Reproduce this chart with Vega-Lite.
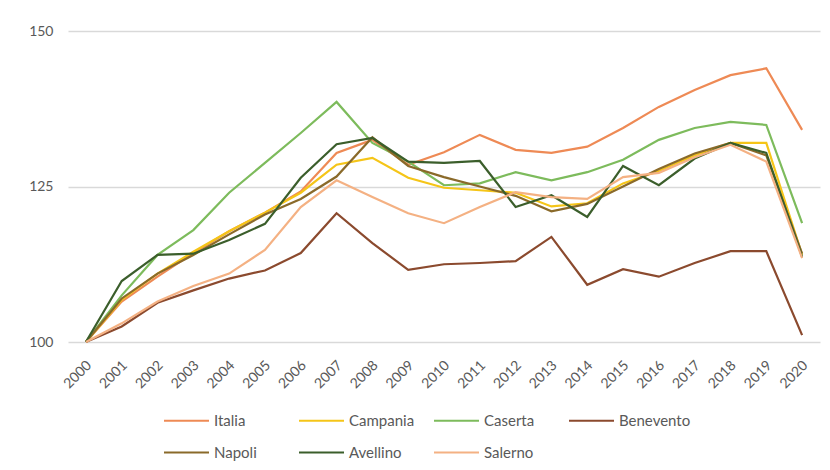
{
  "$schema": "https://vega.github.io/schema/vega-lite/v6.json",
  "width": 752,
  "height": 311,
  "autosize": {"type": "none"},
  "padding": {"left": 68, "top": 31, "right": 10, "bottom": 128},
  "background": "white",
  "config": {
    "view": {"stroke": null},
    "font": "Lato",
    "axis": {"labelFont": "Lato", "labelColor": "#595959", "labelFontSize": 14, "gridColor": "#d9d9d9", "gridWidth": 1.5, "domain": false, "ticks": false},
    "legend": {"labelFont": "Lato", "labelColor": "#595959", "labelFontSize": 15}
  },
  "data": {
    "values": [
      {"anno": "2000", "area": "Italia", "indice": 100}, {"anno": "2000", "area": "Campania", "indice": 100}, {"anno": "2000", "area": "Caserta", "indice": 100}, {"anno": "2000", "area": "Benevento", "indice": 100}, {"anno": "2000", "area": "Napoli", "indice": 100}, {"anno": "2000", "area": "Avellino", "indice": 100}, {"anno": "2000", "area": "Salerno", "indice": 100},
      {"anno": "2001", "area": "Italia", "indice": 106.5}, {"anno": "2001", "area": "Campania", "indice": 106.8}, {"anno": "2001", "area": "Caserta", "indice": 107.5}, {"anno": "2001", "area": "Benevento", "indice": 102.5}, {"anno": "2001", "area": "Napoli", "indice": 107}, {"anno": "2001", "area": "Avellino", "indice": 109.8}, {"anno": "2001", "area": "Salerno", "indice": 103},
      {"anno": "2002", "area": "Italia", "indice": 110.5}, {"anno": "2002", "area": "Campania", "indice": 111}, {"anno": "2002", "area": "Caserta", "indice": 114}, {"anno": "2002", "area": "Benevento", "indice": 106.3}, {"anno": "2002", "area": "Napoli", "indice": 111}, {"anno": "2002", "area": "Avellino", "indice": 114}, {"anno": "2002", "area": "Salerno", "indice": 106.5},
      {"anno": "2003", "area": "Italia", "indice": 114.3}, {"anno": "2003", "area": "Campania", "indice": 114.5}, {"anno": "2003", "area": "Caserta", "indice": 118}, {"anno": "2003", "area": "Benevento", "indice": 108.3}, {"anno": "2003", "area": "Napoli", "indice": 114}, {"anno": "2003", "area": "Avellino", "indice": 114.2}, {"anno": "2003", "area": "Salerno", "indice": 109},
      {"anno": "2004", "area": "Italia", "indice": 117.8}, {"anno": "2004", "area": "Campania", "indice": 117.8}, {"anno": "2004", "area": "Caserta", "indice": 124}, {"anno": "2004", "area": "Benevento", "indice": 110.2}, {"anno": "2004", "area": "Napoli", "indice": 117.3}, {"anno": "2004", "area": "Avellino", "indice": 116.4}, {"anno": "2004", "area": "Salerno", "indice": 111},
      {"anno": "2005", "area": "Italia", "indice": 120.8}, {"anno": "2005", "area": "Campania", "indice": 120.8}, {"anno": "2005", "area": "Caserta", "indice": 128.8}, {"anno": "2005", "area": "Benevento", "indice": 111.5}, {"anno": "2005", "area": "Napoli", "indice": 120.5}, {"anno": "2005", "area": "Avellino", "indice": 119}, {"anno": "2005", "area": "Salerno", "indice": 114.8},
      {"anno": "2006", "area": "Italia", "indice": 124.2}, {"anno": "2006", "area": "Campania", "indice": 124}, {"anno": "2006", "area": "Caserta", "indice": 133.6}, {"anno": "2006", "area": "Benevento", "indice": 114.3}, {"anno": "2006", "area": "Napoli", "indice": 123}, {"anno": "2006", "area": "Avellino", "indice": 126.4}, {"anno": "2006", "area": "Salerno", "indice": 121.7},
      {"anno": "2007", "area": "Italia", "indice": 130.4}, {"anno": "2007", "area": "Campania", "indice": 128.5}, {"anno": "2007", "area": "Caserta", "indice": 138.6}, {"anno": "2007", "area": "Benevento", "indice": 120.7}, {"anno": "2007", "area": "Napoli", "indice": 126.6}, {"anno": "2007", "area": "Avellino", "indice": 131.8}, {"anno": "2007", "area": "Salerno", "indice": 126},
      {"anno": "2008", "area": "Italia", "indice": 132.5}, {"anno": "2008", "area": "Campania", "indice": 129.6}, {"anno": "2008", "area": "Caserta", "indice": 132}, {"anno": "2008", "area": "Benevento", "indice": 115.9}, {"anno": "2008", "area": "Napoli", "indice": 132.9}, {"anno": "2008", "area": "Avellino", "indice": 132.8}, {"anno": "2008", "area": "Salerno", "indice": 123.3},
      {"anno": "2009", "area": "Italia", "indice": 128.5}, {"anno": "2009", "area": "Campania", "indice": 126.4}, {"anno": "2009", "area": "Caserta", "indice": 129}, {"anno": "2009", "area": "Benevento", "indice": 111.6}, {"anno": "2009", "area": "Napoli", "indice": 128.3}, {"anno": "2009", "area": "Avellino", "indice": 129}, {"anno": "2009", "area": "Salerno", "indice": 120.7},
      {"anno": "2010", "area": "Italia", "indice": 130.5}, {"anno": "2010", "area": "Campania", "indice": 124.8}, {"anno": "2010", "area": "Caserta", "indice": 125.2}, {"anno": "2010", "area": "Benevento", "indice": 112.5}, {"anno": "2010", "area": "Napoli", "indice": 126.5}, {"anno": "2010", "area": "Avellino", "indice": 128.8}, {"anno": "2010", "area": "Salerno", "indice": 119.1},
      {"anno": "2011", "area": "Italia", "indice": 133.3}, {"anno": "2011", "area": "Campania", "indice": 124.4}, {"anno": "2011", "area": "Caserta", "indice": 125.5}, {"anno": "2011", "area": "Benevento", "indice": 112.7}, {"anno": "2011", "area": "Napoli", "indice": 125}, {"anno": "2011", "area": "Avellino", "indice": 129.1}, {"anno": "2011", "area": "Salerno", "indice": 121.7},
      {"anno": "2012", "area": "Italia", "indice": 130.9}, {"anno": "2012", "area": "Campania", "indice": 124}, {"anno": "2012", "area": "Caserta", "indice": 127.3}, {"anno": "2012", "area": "Benevento", "indice": 113}, {"anno": "2012", "area": "Napoli", "indice": 123.5}, {"anno": "2012", "area": "Avellino", "indice": 121.7}, {"anno": "2012", "area": "Salerno", "indice": 124.1},
      {"anno": "2013", "area": "Italia", "indice": 130.4}, {"anno": "2013", "area": "Campania", "indice": 121.8}, {"anno": "2013", "area": "Caserta", "indice": 126}, {"anno": "2013", "area": "Benevento", "indice": 116.9}, {"anno": "2013", "area": "Napoli", "indice": 121}, {"anno": "2013", "area": "Avellino", "indice": 123.6}, {"anno": "2013", "area": "Salerno", "indice": 123.3},
      {"anno": "2014", "area": "Italia", "indice": 131.4}, {"anno": "2014", "area": "Campania", "indice": 122.3}, {"anno": "2014", "area": "Caserta", "indice": 127.3}, {"anno": "2014", "area": "Benevento", "indice": 109.2}, {"anno": "2014", "area": "Napoli", "indice": 122.2}, {"anno": "2014", "area": "Avellino", "indice": 120.1}, {"anno": "2014", "area": "Salerno", "indice": 123},
      {"anno": "2015", "area": "Italia", "indice": 134.4}, {"anno": "2015", "area": "Campania", "indice": 125.5}, {"anno": "2015", "area": "Caserta", "indice": 129.3}, {"anno": "2015", "area": "Benevento", "indice": 111.7}, {"anno": "2015", "area": "Napoli", "indice": 125}, {"anno": "2015", "area": "Avellino", "indice": 128.3}, {"anno": "2015", "area": "Salerno", "indice": 126.5},
      {"anno": "2016", "area": "Italia", "indice": 137.8}, {"anno": "2016", "area": "Campania", "indice": 127.5}, {"anno": "2016", "area": "Caserta", "indice": 132.5}, {"anno": "2016", "area": "Benevento", "indice": 110.5}, {"anno": "2016", "area": "Napoli", "indice": 127.8}, {"anno": "2016", "area": "Avellino", "indice": 125.2}, {"anno": "2016", "area": "Salerno", "indice": 127.2},
      {"anno": "2017", "area": "Italia", "indice": 140.5}, {"anno": "2017", "area": "Campania", "indice": 130}, {"anno": "2017", "area": "Caserta", "indice": 134.4}, {"anno": "2017", "area": "Benevento", "indice": 112.7}, {"anno": "2017", "area": "Napoli", "indice": 130.3}, {"anno": "2017", "area": "Avellino", "indice": 129.5}, {"anno": "2017", "area": "Salerno", "indice": 129.7},
      {"anno": "2018", "area": "Italia", "indice": 142.9}, {"anno": "2018", "area": "Campania", "indice": 132}, {"anno": "2018", "area": "Caserta", "indice": 135.4}, {"anno": "2018", "area": "Benevento", "indice": 114.6}, {"anno": "2018", "area": "Napoli", "indice": 132}, {"anno": "2018", "area": "Avellino", "indice": 132}, {"anno": "2018", "area": "Salerno", "indice": 131.7},
      {"anno": "2019", "area": "Italia", "indice": 144}, {"anno": "2019", "area": "Campania", "indice": 132}, {"anno": "2019", "area": "Caserta", "indice": 134.9}, {"anno": "2019", "area": "Benevento", "indice": 114.6}, {"anno": "2019", "area": "Napoli", "indice": 130}, {"anno": "2019", "area": "Avellino", "indice": 130.4}, {"anno": "2019", "area": "Salerno", "indice": 129},
      {"anno": "2020", "area": "Italia", "indice": 134.1}, {"anno": "2020", "area": "Campania", "indice": 114}, {"anno": "2020", "area": "Caserta", "indice": 119.1}, {"anno": "2020", "area": "Benevento", "indice": 101.1}, {"anno": "2020", "area": "Napoli", "indice": 114.2}, {"anno": "2020", "area": "Avellino", "indice": 113.7}, {"anno": "2020", "area": "Salerno", "indice": 113.5}
    ]
  },
  "mark": {"type": "line", "strokeWidth": 2.2},
  "encoding": {
    "x": {
      "field": "anno",
      "type": "ordinal",
      "scale": {"type": "point", "padding": 0.5},
      "axis": {"title": null, "grid": false, "labelAngle": -45, "labelAlign": "right", "labelBaseline": "middle", "labelPadding": 21, "labelOffset": 3}
    },
    "y": {
      "field": "indice",
      "type": "quantitative",
      "scale": {"domain": [100, 150], "nice": false, "zero": false},
      "axis": {"title": null, "values": [100, 125, 150], "labelPadding": 15}
    },
    "color": {
      "field": "area",
      "type": "nominal",
      "scale": {
        "domain": ["Italia", "Campania", "Caserta", "Benevento", "Napoli", "Avellino", "Salerno"],
        "range": ["#EE8A55", "#F5C518", "#7DBB5C", "#8B4A2E", "#8A6A2A", "#3B5E2B", "#F4B183"]
      },
      "legend": {
        "title": null,
        "orient": "none",
        "legendX": 95,
        "legendY": 366,
        "padding": 0,
        "direction": "horizontal",
        "columns": 4,
        "gridAlign": "all",
        "columnPadding": 9,
        "rowPadding": -13,
        "symbolType": "stroke",
        "symbolSize": 2025,
        "symbolStrokeWidth": 2,
        "labelOffset": 4
      }
    },
    "order": {"field": "anno"}
  }
}
